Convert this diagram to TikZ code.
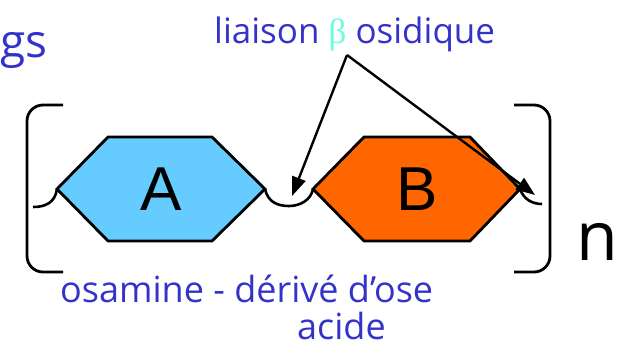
\documentclass[tikz,border=0pt]{standalone}
\usepackage{fontspec}
\setmainfont{Open Sans}
\newfontfamily\letterfont{Liberation Sans}
\newfontfamily\greekfont{Liberation Serif}
\usetikzlibrary{arrows.meta}
\definecolor{textblue}{RGB}{51,51,204}
\definecolor{betacyan}{RGB}{102,255,221}
\definecolor{skyfill}{RGB}{102,204,255}
\definecolor{orangefill}{RGB}{255,102,0}

\tikzset{
  cycle/.style={line width=2.8pt, line join=miter},
  link/.style={line width=2.6pt},
  pointer/.style={line width=2.4pt, -{Triangle[length=19pt,width=14pt]}},
  bracket/.style={line width=2.8pt, rounded corners=16pt},
  caption/.style={text=textblue, inner sep=0pt, anchor=base west},
  letter/.style={inner sep=0pt, font=\letterfont\fontsize{62}{62}\selectfont},
}

\begin{document}
\begin{tikzpicture}[x=1pt,y=-1pt]
  \useasboundingbox (0,0) rectangle (617,348);
  % sugar A
  \coordinate (al) at (57,189);
  \coordinate (ar) at (265,189);
  \filldraw[cycle, fill=skyfill] (al) -- (108,137) -- (212,137) -- (ar) -- (212,241) -- (108,241) -- cycle;
  \node[letter] (A) at (161,189) {A};
  % sugar B
  \coordinate (bl) at (313,189);
  \coordinate (br) at (520,189);
  \filldraw[cycle, fill=orangefill] (bl) -- (364,137) -- (470,137) -- (br) -- (470,241) -- (364,241) -- cycle;
  \node[letter] (B) at (417,189) {B};
  % bonds
  \coordinate (lend) at (33,207);
  \coordinate (rend) at (542,204);
  \draw[link] (al) .. controls (55,203) and (45,207) .. (lend);
  \draw[link] (ar) .. controls (268,203) and (279,206) .. (289,206) .. controls (300,206) and (311,200) .. (bl);
  \draw[link] (br) .. controls (524,200) and (533,204) .. (rend);
  % brackets
  \draw[bracket] (63,105) -- (27,105) -- (27,272) -- (63,272);
  \draw[bracket] (514,105) -- (550,105) -- (550,272) -- (514,272);
  \node[anchor=base west, inner sep=0pt, font=\fontsize{68}{68}\selectfont] (n) at (576,260) {n};
  % labels
  \node[caption, font=\fontsize{46}{46}\selectfont] (gs) at (0,57) {gs};
  \node[caption, font=\fontsize{35}{35}\selectfont] (liaison) at (214,43) {liaison {\greekfont\color{betacyan}β} osidique};
  \node[caption, font=\fontsize{36}{36}\selectfont] (osamine) at (60,302) {osamine - dérivé d'ose};
  \node[caption, font=\fontsize{36}{36}\selectfont] (acide) at (297,339) {acide};
  % arrows to the bonds
  \coordinate (apex) at (347,55);
  \coordinate (tipl) at (292,196);
  \coordinate (tipr) at (535,195);
  \draw[pointer] (apex) -- (tipl);
  \draw[pointer] (apex) -- (tipr);
\end{tikzpicture}
\end{document}
